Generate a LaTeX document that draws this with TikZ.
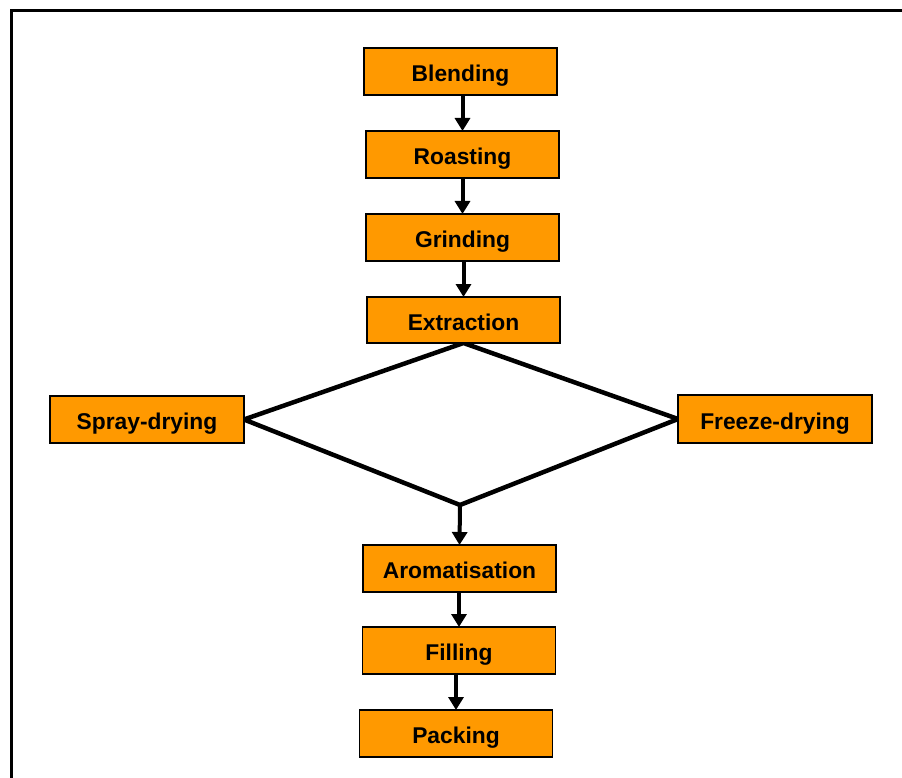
\documentclass[tikz,border=0pt]{standalone}
\usepackage{fontspec}
\setmainfont{Liberation Sans}
\usetikzlibrary{arrows.meta,backgrounds}
\definecolor{boxorange}{HTML}{FF9900}
\tikzset{
  stepbox/.style={draw=black, line width=1.3pt, fill=boxorange, inner sep=0pt, outer sep=0pt,
    minimum width=193pt, minimum height=47pt, text height=20.4pt, text depth=0pt,
    font=\bfseries\fontsize{22.8}{27}\selectfont},
  flow/.style={line width=4pt, -{Triangle[length=13pt,width=15pt]}},
  diam/.style={line width=4.5pt, line join=miter}
}
\begin{document}
\begin{tikzpicture}[x=1pt,y=-1pt]
\useasboundingbox (0,0) rectangle (902,778);
\draw[line width=3.5pt] (11.5,790) -- (11.5,10.5) -- (915,10.5);
\node[stepbox] (blend) at (460.5,71.5) {Blending};
\node[stepbox] (roast) at (462.5,154.5) {Roasting};
\node[stepbox] (grind) at (462.5,237.5) {Grinding};
\node[stepbox, minimum height=46pt] (extr) at (463.5,320) {Extraction};
\node[stepbox, minimum width=194pt] (spray) at (147,419.5) {Spray-drying};
\node[stepbox, minimum width=194pt, minimum height=48pt] (freeze) at (775,419) {Freeze-drying};
\node[stepbox] (arom) at (459.5,568.5) {Aromatisation};
\node[stepbox] (fill) at (459,650.5) {Filling};
\node[stepbox] (pack) at (456,733.5) {Packing};
\coordinate (dbot) at (460,505);
\begin{pgfonlayer}{background}
\draw[diam] (extr.south) -- (spray.east) -- (dbot) -- (freeze.west) -- cycle;
\end{pgfonlayer}
\draw[flow] (roast.north |- blend.south) -- (roast.north);
\draw[flow] (grind.north |- roast.south) -- (grind.north);
\draw[flow] (extr.north |- grind.south) -- (extr.north);
\draw[flow] (dbot) -- (arom.north);
\draw[flow] (fill.north |- arom.south) -- (fill.north);
\draw[flow] (pack.north |- fill.south) -- (pack.north);
\end{tikzpicture}
\end{document}
